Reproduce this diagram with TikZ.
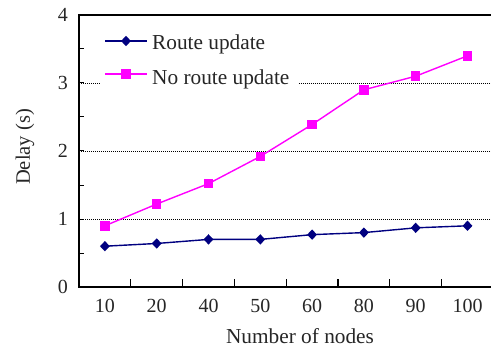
\documentclass[tikz,border=0pt]{standalone}
\usepackage{fontspec}
\setmainfont{Liberation Serif}
\usetikzlibrary{shapes.geometric}
\definecolor{routeblue}{RGB}{0,0,128}
\definecolor{noroute}{RGB}{255,0,255}
\begin{document}
\begin{tikzpicture}[x=1pt,y=1pt,
  axisline/.style={line width=1.6pt, black},
  gridline/.style={line width=0.6pt, black, dash pattern=on 0.8pt off 1.2pt},
  lbl/.style={font=\fontsize{20}{24}\selectfont, text=black!85, inner sep=0pt},
  biglbl/.style={lbl, font=\fontsize{21.3}{25}\selectfont},
  diam/.style={diamond, fill=routeblue, inner sep=0pt, minimum width=10pt, minimum height=10.5pt},
  sq/.style={rectangle, fill=noroute, inner sep=0pt, minimum size=9.5pt},
  routeline/.style={routeblue, line width=1.4pt},
  norouteline/.style={noroute, line width=1.4pt}]
\useasboundingbox (0,0) rectangle (491,349);

\begin{scope}[shift={(79,62)}, x=51.8pt, y=68pt]
  % dotted grid lines
  \foreach \v in {1,2,3}
    \draw[gridline] (0,\v) -- (8,\v);
\end{scope}

% legend background hides the grid line behind it
\fill[white] (100,254) rectangle (298,324);

\begin{scope}[shift={(79,62)}, x=51.8pt, y=68pt]
  % axes and frame top
  \draw[axisline] (8,0) -- (0,0) -- (0,4) -- (8,4);
  % y ticks
  \foreach \v in {0.5,1,...,3.5}
    \draw[line width=1pt] (0,\v) -- ++(5pt,0);
  % x ticks between categories
  \foreach \i in {1,...,7}
    \draw[line width=1.2pt] (\i,0) -- ++(0,8pt);
  % y tick labels
  \foreach \v in {0,...,4}
    \node[lbl, anchor=base east] (yl\v) at ([xshift=-11pt, yshift=-6.8pt]0,\v) {\v};
  % x tick labels
  \foreach \t [count=\i] in {10,20,40,50,60,80,90,100}
    \node[lbl, anchor=base] (xl\i) at ([yshift=-25pt]\i-0.5,0) {\t};

  % data
  \foreach \v [count=\i] in {0.6,0.64,0.7,0.7,0.77,0.8,0.87,0.9}
    \coordinate (r\i) at (\i-0.5,\v);
  \foreach \v [count=\i] in {0.9,1.22,1.52,1.92,2.39,2.9,3.1,3.4}
    \coordinate (n\i) at (\i-0.5,\v);
  \draw[norouteline] (n1) \foreach \i in {2,...,8} {-- (n\i)};
  \draw[routeline] (r1) \foreach \i in {2,...,8} {-- (r\i)};
  \foreach \i in {1,...,8} {
    \node[sq] (nm\i) at (n\i) {};
    \node[diam] (rm\i) at (r\i) {};
  }
\end{scope}

% legend
\coordinate (la) at (105,308);
\coordinate (lb) at (147,308);
\coordinate (lc) at (105,275);
\coordinate (ld) at (147,275);
\draw[routeline] (la) -- (lb);
\node[diam] (lgr) at (126,308) {};
\draw[norouteline] (lc) -- (ld);
\node[sq] (lgn) at (126,275) {};
\node[biglbl, anchor=base west] (lgrt) at (152,299) {Route update};
\node[biglbl, anchor=base west] (lgnt) at (152,265) {No route update};

% axis titles
\node[biglbl, anchor=base] (xtitle) at (300,6) {Number of nodes};
\node[lbl, font=\fontsize{20.5}{24}\selectfont, rotate=90] (ytitle) at (25,202) {Delay (s)};
\end{tikzpicture}
\end{document}
